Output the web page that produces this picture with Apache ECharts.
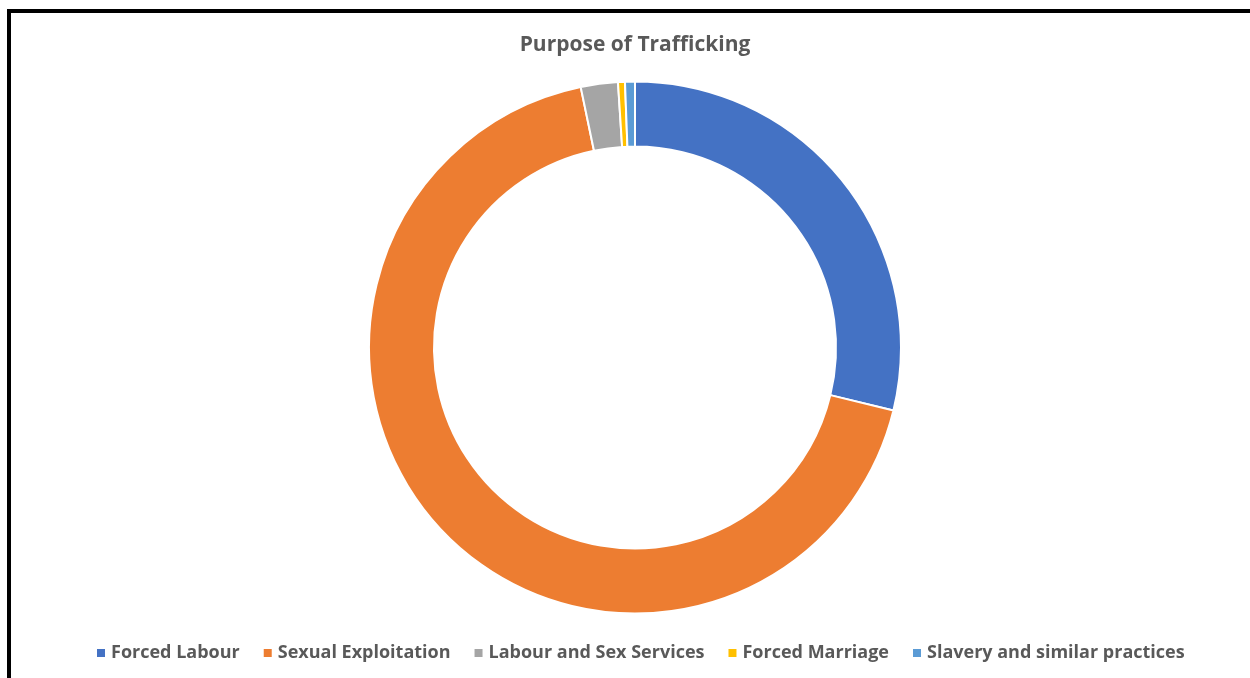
<!DOCTYPE html>
<html>
<head>
<meta charset="utf-8">
<script src="https://cdn.jsdelivr.net/npm/echarts@6/dist/echarts.min.js"></script>
<style>
html,body{margin:0;padding:0;background:#fff;}
#frame{position:absolute;left:7px;top:9px;width:1300px;height:700px;border-left:4px solid #000;border-top:4px solid #000;box-sizing:border-box;}
#chart{position:absolute;left:0;top:0;width:1250px;height:678px;}
</style>
</head>
<body>
<div id="frame"></div>
<div id="chart"></div>
<script>
const categories = ['Forced Labour', 'Sexual Exploitation', 'Labour and Sex Services', 'Forced Marriage', 'Slavery and similar practices'];
const values = [28.8, 67.9, 2.25, 0.42, 0.6];
const colors = ['#4472C4', '#ED7D31', '#A5A5A5', '#FFC000', '#5B9BD5'];
const titleText = 'Purpose of Trafficking';

const chart = echarts.init(document.getElementById('chart'));
chart.setOption({
  animation: false,
  color: colors,
  title: {
    text: titleText,
    left: 630, top: 30, textAlign: 'center',
    textStyle: { fontFamily: 'Open Sans', fontWeight: 'bold', fontSize: 21, color: '#595959' }
  },
  legend: {
    data: categories,
    bottom: 11,
    left: 90,
    icon: 'rect',
    itemWidth: 10, itemHeight: 10,
    itemGap: 22,
    textStyle: { fontFamily: 'Open Sans', fontWeight: 'bold', fontSize: 18, color: '#595959' }
  },
  series: [{
    type: 'pie',
    center: [635, 347.5],
    radius: [201, 266],
    startAngle: 90,
    clockwise: true,
    label: { show: false },
    labelLine: { show: false },
    itemStyle: { borderColor: '#fff', borderWidth: 2 },
    data: categories.map((c, i) => ({ name: c, value: values[i] }))
  }]
});
</script>
</body>
</html>
